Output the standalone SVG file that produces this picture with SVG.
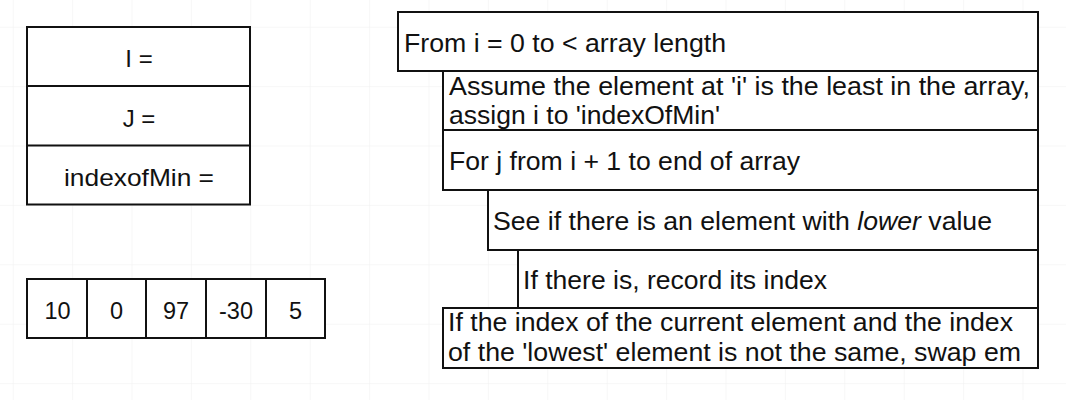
<svg xmlns="http://www.w3.org/2000/svg" width="1066" height="400" viewBox="0 0 1066 400">
<defs>
<pattern id="grid" patternUnits="userSpaceOnUse" x="12.7" y="26.7" width="59.4" height="59.4">
<path d="M0 0H59.4M0 0V59.4" fill="none" stroke="#f0f0f0" stroke-width="1"/>
</pattern>
<style>
.box{fill:#fff;stroke:#111;stroke-width:2}
.ln{fill:none;stroke:#111;stroke-width:2}
.t{font-family:"Liberation Sans",Arial,sans-serif;font-size:24px;fill:#111}
.r{font-size:25.5px}
.c{text-anchor:middle}
</style>
</defs>
<rect width="1066" height="400" fill="#fff"/>
<rect width="1066" height="400" fill="url(#grid)"/>

<g id="vars">
<rect class="box" x="27" y="27" width="223" height="177.5"/>
<line class="ln" x1="27" y1="86" x2="250" y2="86"/>
<line class="ln" x1="27" y1="145.5" x2="250" y2="145.5"/>
<text class="t c" x="139" y="67">I =</text>
<text class="t c" x="139" y="127">J =</text>
<text class="t c" x="139" y="186" textLength="150" lengthAdjust="spacingAndGlyphs">indexofMin =</text>
</g>

<g id="array">
<rect class="box" x="27" y="279" width="298" height="59"/>
<line class="ln" x1="87" y1="279" x2="87" y2="338"/>
<line class="ln" x1="146" y1="279" x2="146" y2="338"/>
<line class="ln" x1="206" y1="279" x2="206" y2="338"/>
<line class="ln" x1="266" y1="279" x2="266" y2="338"/>
<text class="t c" x="57.5" y="319" style="font-size:23.5px">10</text>
<text class="t c" x="116.5" y="319" style="font-size:23.5px">0</text>
<text class="t c" x="176" y="319" style="font-size:23.5px">97</text>
<text class="t c" x="236" y="319" style="font-size:23.5px">-30</text>
<text class="t c" x="295.5" y="319" style="font-size:23.5px">5</text>
</g>

<g id="outer-loop">
<rect class="box" x="398" y="12" width="640" height="59"/>
<text class="t r" x="404" y="52" textLength="322" lengthAdjust="spacingAndGlyphs">From i = 0 to &lt; array length</text>
</g>

<g id="assume">
<rect class="box" x="443" y="71" width="595" height="59"/>
<text class="t r" x="449" y="95" textLength="581" lengthAdjust="spacingAndGlyphs">Assume the element at 'i' is the least in the array,</text>
<text class="t r" x="449" y="124" textLength="271" lengthAdjust="spacingAndGlyphs">assign i to 'indexOfMin'</text>
</g>

<g id="inner-loop">
<rect class="box" x="443" y="130" width="595" height="60"/>
<text class="t r" x="449" y="170" textLength="351" lengthAdjust="spacingAndGlyphs">For j from i + 1 to end of array</text>
</g>

<g id="compare">
<rect class="box" x="488" y="190" width="550" height="60"/>
<text class="t r" x="493" y="230" textLength="499" lengthAdjust="spacingAndGlyphs">See if there is an element with <tspan font-style="italic">lower</tspan> value</text>
</g>

<g id="record">
<rect class="box" x="518" y="250" width="520" height="58"/>
<text class="t r" x="523" y="289" textLength="304" lengthAdjust="spacingAndGlyphs">If there is, record its index</text>
</g>

<g id="swap">
<rect class="box" x="443" y="308" width="595" height="60"/>
<text class="t r" x="448" y="331" textLength="565" lengthAdjust="spacingAndGlyphs">If the index of the current element and the index</text>
<text class="t r" x="448" y="361" textLength="573" lengthAdjust="spacingAndGlyphs">of the 'lowest' element is not the same, swap em</text>
</g>

<g id="connectors"></g>
</svg>
